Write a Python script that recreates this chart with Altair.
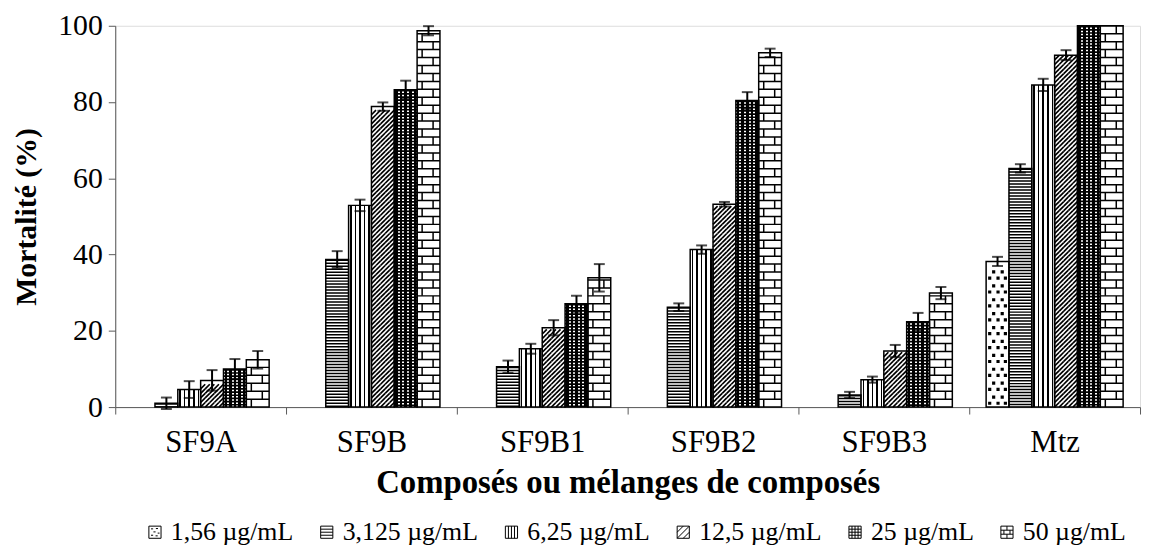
import altair as alt
import pandas as pd

# ---------------- data ----------------
COMPOUNDS = ["SF9A", "SF9B", "SF9B1", "SF9B2", "SF9B3", "Mtz"]
SERIES = ["1,56 µg/mL", "3,125 µg/mL", "6,25 µg/mL", "12,5 µg/mL", "25 µg/mL", "50 µg/mL"]

SF9A_VAL = [None, 1.0, 4.6, 7.0, 10.0, 12.4]
SF9A_ERR = [None, 1.5, 2.2, 2.7, 2.6, 2.3]
SF9B_VAL = [None, 38.7, 52.9, 78.8, 83.2, 98.7]
SF9B_ERR = [None, 2.2, 1.5, 1.1, 2.4, 1.2]
SF9B1_VAL = [None, 10.6, 15.3, 20.8, 27.1, 33.9]
SF9B1_ERR = [None, 1.6, 1.3, 2.0, 2.1, 3.6]
SF9B2_VAL = [None, 26.2, 41.3, 53.2, 80.4, 92.9]
SF9B2_ERR = [None, 1.0, 1.1, 0.6, 2.2, 1.1]
SF9B3_VAL = [None, 3.2, 7.2, 14.7, 22.4, 29.9]
SF9B3_ERR = [None, 0.8, 0.8, 1.6, 2.3, 1.6]
MTZ_VAL = [38.2, 62.6, 84.5, 92.3, 100.0, 100.0]
MTZ_ERR = [1.2, 1.1, 1.6, 1.3, 0.0, 0.0]

Y_TICKS = [0, 20, 40, 60, 80, 100]

VALUES = [SF9A_VAL, SF9B_VAL, SF9B1_VAL, SF9B2_VAL, SF9B3_VAL, MTZ_VAL]
ERRORS = [SF9A_ERR, SF9B_ERR, SF9B1_ERR, SF9B2_ERR, SF9B3_ERR, MTZ_ERR]

rows = []
for comp, vals, errs in zip(COMPOUNDS, VALUES, ERRORS):
    for ser, v, e in zip(SERIES, vals, errs):
        if v is None:
            continue
        rows.append({"compound": comp, "series": ser, "value": v, "err": e})
df = pd.DataFrame(rows)

# ---------------- layout / style ----------------
FONT = "Liberation Serif"
W, H = 1032, 384
PO = 0.74
BAR = W / 6 / (6 + 2 * PO)          # width of one bar in px
UPX = H / 100.0                       # px per data unit
AX_COL = "#595959"


def u(px):
    """pixel distance -> symbol unit coordinates (symbol size = BAR**2)"""
    return px / (BAR / 2)


def f(x):
    return f"{x:.4f}"


# diagonal hatch tile ("/" lines)
P_DIAG = 4.6
diag = []
k = 1
while (k - 1) * P_DIAG < BAR:
    c = k * P_DIAG
    x0 = max(0.0, c - P_DIAG)
    x1 = min(BAR, c)
    y0 = c - x0
    y1 = c - x1
    diag.append(
        f"M{f(u(x0 - BAR / 2))},{f(u(y0 - P_DIAG / 2))}L{f(u(x1 - BAR / 2))},{f(u(y1 - P_DIAG / 2))}"
    )
    k += 1
DIAG_PATH = "".join(diag)

# brick tiles
P_BRICK = 8.0
def brick(jfrac):
    jx = jfrac * BAR - BAR / 2
    return (f"M-1,{f(u(-P_BRICK / 2))}L1,{f(u(-P_BRICK / 2))}"
            f"M{f(u(jx))},{f(u(-P_BRICK / 2))}L{f(u(jx))},{f(u(P_BRICK / 2))}")
BRICK_EVEN = brick(0.22)
BRICK_ODD = brick(0.70)

# dotted tiles
P_DOT = 7.0
S_DOT = 3.2
def dots(xs, dy):
    out = []
    for xp in xs:
        xc = xp - BAR / 2
        x0, y0, s = u(xc - S_DOT / 2), u(dy - S_DOT / 2), u(S_DOT)
        out.append(f"M{f(x0)},{f(y0)}L{f(x0 + s)},{f(y0)}L{f(x0 + s)},{f(y0 + s)}L{f(x0)},{f(y0 + s)}Z")
    return "".join(out)
DOT_EVEN = dots([3.6, 12.0, 19.4], -0.4)
DOT_ODD = dots([7.6, 16.2], 0.4)


def stripe_gradient(n, duty):
    stops = []
    for i in range(n):
        a = i / n
        b = (i + (1 - duty) / 2) / n
        cc = (i + (1 + duty) / 2) / n
        d = (i + 1) / n
        stops += [
            {"offset": a, "color": "white"}, {"offset": b, "color": "white"},
            {"offset": b, "color": "black"}, {"offset": cc, "color": "black"},
            {"offset": cc, "color": "white"}, {"offset": d, "color": "white"},
        ]
    return {"gradient": "linear", "x1": 0, "y1": 0, "x2": 1, "y2": 0, "stops": stops}

VGRAD = stripe_gradient(5, 0.34)
CGRAD = stripe_gradient(5, 0.55)

SQ = "M-1,-1L1,-1L1,1L-1,1Z"
LEG_PATHS = [
    SQ + "M-0.65,-0.55L-0.3,-0.55M0.15,-0.6L0.5,-0.6M-0.25,-0.05L0.1,-0.05M0.45,0.15L0.75,0.15M-0.65,0.5L-0.3,0.5M0.1,0.6L0.45,0.6",
    SQ + "M-1,-0.5L1,-0.5M-1,0L1,0M-1,0.5L1,0.5",
    SQ + "M-0.5,-1L-0.5,1M0,-1L0,1M0.5,-1L0.5,1",
    SQ + "M-1,0L0,-1M-1,1L1,-1M0,1L1,0",
    SQ + "M-0.5,-1L-0.5,1M0,-1L0,1M0.5,-1L0.5,1M-1,-0.5L1,-0.5M-1,0L1,0M-1,0.5L1,0.5",
    SQ + "M-1,-0.33L1,-0.33M-1,0.33L1,0.33M0,-1L0,-0.33M-0.5,-0.33L-0.5,0.33M0.5,-0.33L0.5,0.33M0,0.33L0,1",
]

AXIS_Y = alt.Axis(values=Y_TICKS, grid=False, tickSize=7, labelFontSize=30, labelFont=FONT,
                  titleFont=FONT, titleFontSize=30, titleFontWeight="bold", labelPadding=6,
                  titlePadding=16, domainColor=AX_COL, tickColor=AX_COL, labelColor="black",
                  titleColor="black")
AXIS_X = alt.Axis(tickBand="extent", labelAngle=0, tickSize=7, labelFontSize=31, labelFont=FONT,
                  labelPadding=14, titleFont=FONT, titleFontSize=33, titleFontWeight="bold",
                  titlePadding=9, domainColor=AX_COL, tickColor=AX_COL, labelColor="black",
                  titleColor="black")

X = alt.X("compound:N", sort=COMPOUNDS,
          scale=alt.Scale(domain=COMPOUNDS, paddingInner=0, paddingOuter=0),
          axis=AXIS_X, title="Composés ou mélanges de composés")
XO = alt.XOffset("series:N", sort=SERIES,
                 scale=alt.Scale(domain=SERIES, paddingInner=0, paddingOuter=PO))


def Yq(field):
    return alt.Y(f"{field}:Q", scale=alt.Scale(domain=[0, 100], nice=False, zero=True),
                 axis=AXIS_Y, title="Mortalité (%)")


def only(ser):
    return alt.FieldEqualPredicate(field="series", equal=ser)


base = alt.Chart(df)

white = base.mark_bar(fill="white").encode(x=X, xOffset=XO, y=Yq("value"))

vstripes = base.transform_filter(only(SERIES[2])).mark_bar(fill=VGRAD).encode(
    x=X, xOffset=XO, y=Yq("value"))
cstripes = base.transform_filter(only(SERIES[4])).mark_bar(fill=CGRAD).encode(
    x=X, xOffset=XO, y=Yq("value"))

hstripes = base.transform_filter(only(SERIES[1])).transform_calculate(zero="0").mark_rule(
    color="black", strokeWidth=BAR, strokeDash=[1.5, 1.5]).encode(
    x=X, xOffset=XO, y=Yq("value"), y2=alt.Y2("zero:Q"))
chstripes = base.transform_filter(only(SERIES[4])).transform_calculate(zero="0").mark_rule(
    color="black", strokeWidth=BAR, strokeDash=[1.7, 1.5]).encode(
    x=X, xOffset=XO, y=Yq("value"), y2=alt.Y2("zero:Q"))


def tiles(ser, period_px, shape, parity=None, filled=False, sw=1.6):
    pu = period_px / UPX
    c = (base.transform_filter(only(ser))
         .transform_calculate(idx=f"sequence(0, floor(datum.value / {pu:.5f}))")
         .transform_flatten(["idx"])
         .transform_calculate(ty=f"(datum.idx + 0.5) * {pu:.5f}"))
    if parity is not None:
        c = c.transform_filter(f"datum.idx % 2 == {parity}")
    if filled:
        m = c.mark_point(shape=shape, size=BAR ** 2, filled=True, color="black",
                         opacity=1, strokeWidth=0)
    else:
        m = c.mark_point(shape=shape, size=BAR ** 2, filled=False, color="black",
                         opacity=1, strokeWidth=sw)
    return m.encode(x=X, xOffset=XO, y=Yq("ty"))


diag_l = tiles(SERIES[3], P_DIAG, DIAG_PATH, sw=1.7)
brick_e = tiles(SERIES[5], P_BRICK, BRICK_EVEN, parity=0, sw=1.5)
brick_o = tiles(SERIES[5], P_BRICK, BRICK_ODD, parity=1, sw=1.5)
dot_e = tiles(SERIES[0], P_DOT, DOT_EVEN, parity=0, filled=True)
dot_o = tiles(SERIES[0], P_DOT, DOT_ODD, parity=1, filled=True)

outline = base.mark_bar(fill="transparent", stroke="black", strokeWidth=1.5).encode(
    x=X, xOffset=XO, y=Yq("value"))

errbase = base.transform_filter("datum.err > 0").transform_calculate(
    lo="datum.value - datum.err", hi="datum.value + datum.err")
err_rule = errbase.mark_rule(color="black", strokeWidth=2).encode(
    x=X, xOffset=XO, y=Yq("lo"), y2=alt.Y2("hi:Q"))
cap_lo = errbase.mark_tick(color="black", thickness=2, size=11, orient="horizontal").encode(
    x=X, xOffset=XO, y=Yq("lo"))
cap_hi = errbase.mark_tick(color="black", thickness=2, size=11, orient="horizontal").encode(
    x=X, xOffset=XO, y=Yq("hi"))

legend_layer = base.mark_point(opacity=0, filled=False, color="black", strokeWidth=1).encode(
    x=X, xOffset=XO, y=Yq("value"),
    shape=alt.Shape("series:N", sort=SERIES,
                    scale=alt.Scale(domain=SERIES, range=LEG_PATHS),
                    legend=alt.Legend(title=None, orient="none", legendX=27, legendY=497,
                                      direction="horizontal", columns=6, columnPadding=20,
                                      labelFont=FONT, labelFontSize=26, labelColor="black",
                                      labelOffset=3, symbolSize=150, symbolOpacity=1,
                                      symbolStrokeColor="black", symbolStrokeWidth=1,
                                      symbolFillColor="white")))

chart = alt.layer(
    white, vstripes, cstripes, hstripes, chstripes, diag_l, brick_e, brick_o, dot_e, dot_o,
    outline, err_rule, cap_lo, cap_hi, legend_layer
).properties(
    width=W, height=H,
    autosize=alt.AutoSizeParams(type="none"),
    padding={"left": 108, "top": 16, "right": 3, "bottom": 140}
).configure_view(stroke=None).configure(font=FONT)

chart.save("out.html", embed_options={"renderer": "svg", "actions": False})
